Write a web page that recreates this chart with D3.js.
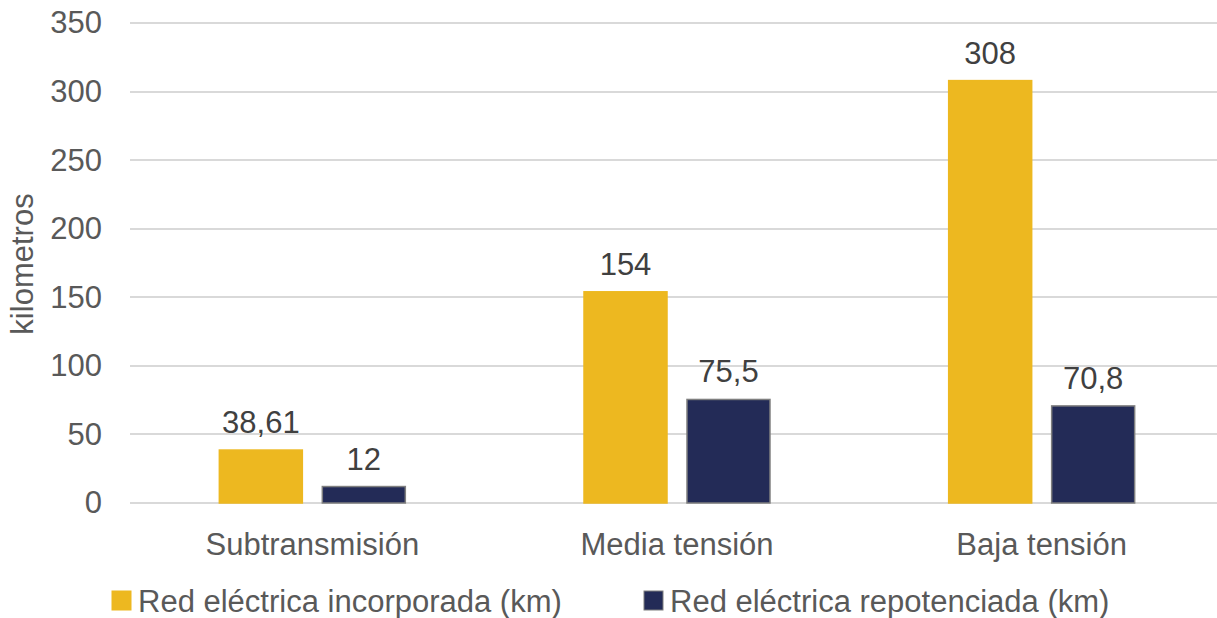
<!DOCTYPE html>
<html lang="es">
<head>
<meta charset="utf-8">
<title>Red eléctrica</title>
<script src="https://d3js.org/d3.v7.min.js"></script>
<style>
  body{margin:0;background:#fff;font-family:"Liberation Sans",Arial,sans-serif;}
</style>
</head>
<body>
<div id="chart1"></div>
<script>
// data
var categories = ["Subtransmisión", "Media tensión", "Baja tensión"]
var seriesNames = ["Red eléctrica incorporada (km)", "Red eléctrica repotenciada (km)"]
var incorporada = [38.61, 154, 308]
var repotenciada = [12, 75.5, 70.8]
var yTicks = [0, 50, 100, 150, 200, 250, 300, 350]

var colors = ["#EDB820", "#232B57"]
var strokes = ["#EDB820", "#7F7F7F"]

var w = 1217, h = 618
var plotLeft = 130, plotRight = 1224, plotTop = 23, plotBottom = 503
var fs = 31

var svg = d3.select("#chart1").append("svg")
    .attr("width", w).attr("height", h)

var yScale = d3.scaleLinear().domain([0, 350]).range([plotBottom, plotTop])
var x0 = d3.scaleBand().domain(categories).range([plotLeft, plotRight]).paddingInner(0.49).paddingOuter(0.245)
var x1 = d3.scaleBand().domain([0, 1]).range([0, x0.bandwidth()]).paddingInner(0.194)

// gridlines
svg.append("g").selectAll("line")
    .data(yTicks).enter().append("line")
    .attr("x1", plotLeft).attr("x2", w)
    .attr("y1", function(d){ return Math.round(yScale(d)) })
    .attr("y2", function(d){ return Math.round(yScale(d)) })
    .attr("stroke", "#D9D9D9").attr("stroke-width", 2)

// y axis labels
var yAxis = d3.axisLeft(yScale).tickValues(yTicks).tickSize(0).tickPadding(28)
var gy = svg.append("g").attr("transform", "translate(" + plotLeft + ",0)").call(yAxis)
gy.select(".domain").remove()
gy.selectAll("text").attr("font-size", fs).attr("fill", "#595959")
    .attr("font-family", "Liberation Sans, Arial, sans-serif")

// category labels
var xAxis = d3.axisBottom(x0).tickSize(0).tickPadding(30)
var gx = svg.append("g").attr("transform", "translate(0," + plotBottom + ")").call(xAxis)
gx.select(".domain").remove()
gx.selectAll("text").attr("font-size", fs).attr("fill", "#595959")
    .attr("font-family", "Liberation Sans, Arial, sans-serif")

// axis title
svg.append("text")
    .attr("transform", "translate(33,264) rotate(-90)")
    .attr("text-anchor", "middle")
    .attr("font-size", fs).attr("fill", "#595959")
    .text("kilometros")

var rows = categories.map(function(c, i){
    return [{cat: c, s: 0, v: incorporada[i]}, {cat: c, s: 1, v: repotenciada[i]}]
})

var groups = svg.append("g").selectAll("g")
    .data(rows).enter().append("g")
    .attr("transform", function(d){ return "translate(" + x0(d[0].cat) + ",0)" })

groups.selectAll("rect")
    .data(function(d){ return d }).enter().append("rect")
    .attr("x", function(d){ return x1(d.s) })
    .attr("y", function(d){ return yScale(d.v) })
    .attr("width", x1.bandwidth())
    .attr("height", function(d){ return plotBottom - yScale(d.v) })
    .attr("fill", function(d){ return colors[d.s] })
    .attr("stroke", function(d){ return strokes[d.s] })
    .attr("stroke-width", 1.5)

groups.selectAll("text")
    .data(function(d){ return d }).enter().append("text")
    .attr("x", function(d){ return x1(d.s) + x1.bandwidth() / 2 })
    .attr("y", function(d){ return yScale(d.v) - 17 })
    .attr("text-anchor", "middle")
    .attr("font-size", fs).attr("fill", "#404040")
    .text(function(d){ return String(d.v).replace(".", ",") })

// legend
var legendX = [112, 644]
var legend = svg.append("g").selectAll("g")
    .data(seriesNames).enter().append("g")
    .attr("transform", function(d, i){ return "translate(" + legendX[i] + ",591)" })
legend.append("rect")
    .attr("width", 19).attr("height", 19)
    .attr("fill", function(d, i){ return colors[i] })
    .attr("stroke", function(d, i){ return strokes[i] })
legend.append("text")
    .attr("x", 26).attr("y", 21)
    .attr("font-size", fs).attr("fill", "#595959")
    .text(function(d){ return d })
</script>
</body>
</html>
